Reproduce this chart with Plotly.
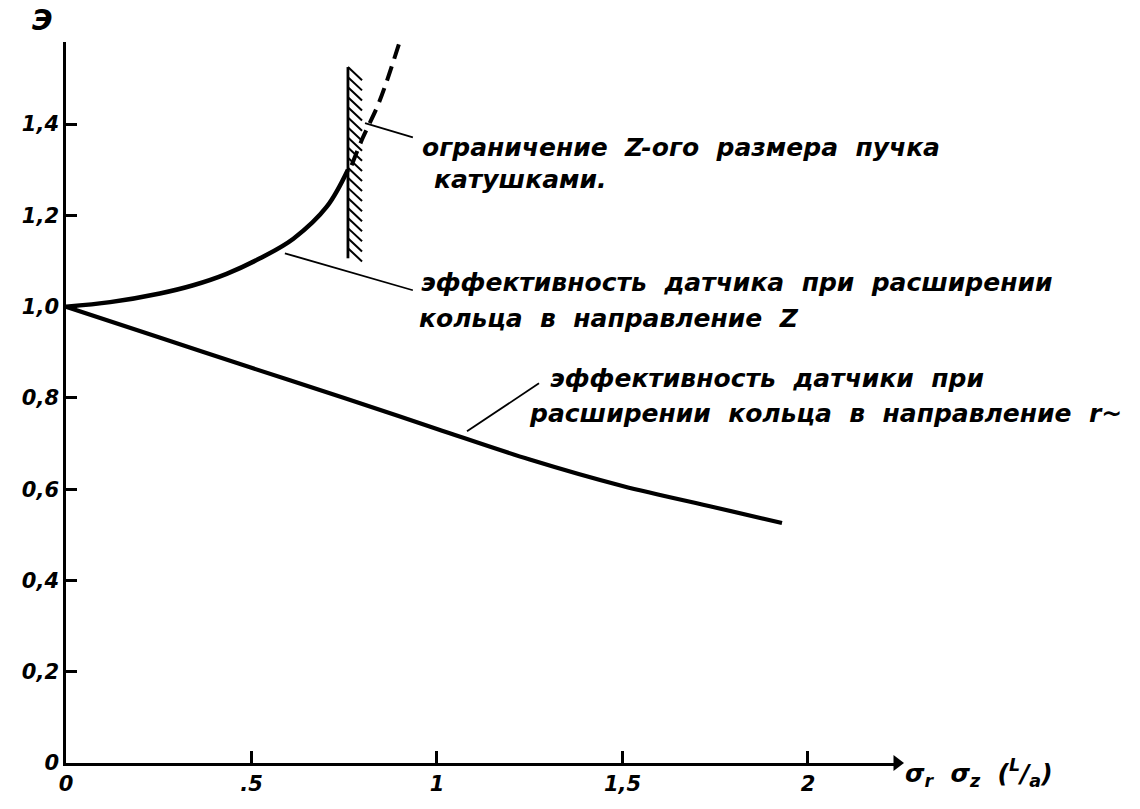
import numpy as np
import plotly.graph_objects as go

# ---- data ----
z_x = [0, 0.119, 0.253, 0.343, 0.433, 0.523, 0.613, 0.703, 0.76]
z_y = [1.0, 1.01, 1.029, 1.047, 1.072, 1.106, 1.149, 1.219, 1.30]

z_dash_x = [0.77, 0.80, 0.845, 0.898]
z_dash_y = [1.31, 1.37, 1.45, 1.577]

r_x = [0, 0.25, 0.5, 0.75, 1.0, 1.25, 1.5, 1.75, 1.93]
r_y = [1.0, 0.933, 0.866, 0.80, 0.732, 0.665, 0.607, 0.56, 0.526]

limit_x = 0.76
limit_y = [1.106, 1.525]

# callout leader lines: (curve point, label point)
leader_x = [[0.806, 0.935], [0.59, 0.935], [1.081, 1.275]]
leader_y = [[1.402, 1.371], [1.117, 1.036], [0.727, 0.832]]

y_tickvals = [0, 0.2, 0.4, 0.6, 0.8, 1.0, 1.2, 1.4]
y_ticktext = ["0", "0,2", "0,4", "0,6", "0,8", "1,0", "1,2", "1,4"]
x_tickvals = [0, 0.5, 1, 1.5, 2]
x_ticktext = ["0", ".5", "1", "1,5", "2"]
x_max = 2.24
y_max = 1.58

FONT = "DejaVu Sans"
fig = go.Figure()

# hatch of the limit line
hx, hy = [], []
n_ticks = 19
step = (limit_y[1] - limit_y[0]) / n_ticks
for i in range(n_ticks):
    y0 = limit_y[1] - i * step
    hx += [limit_x, limit_x + 0.038, None]
    hy += [y0, y0 - 0.029, None]
fig.add_trace(go.Scatter(x=hx, y=hy, mode="lines", line=dict(color="black", width=2),
                         hoverinfo="skip", showlegend=False))
fig.add_trace(go.Scatter(x=[limit_x, limit_x], y=limit_y, mode="lines",
                         line=dict(color="black", width=2.8), showlegend=False))

fig.add_trace(go.Scatter(x=z_x, y=z_y, mode="lines", line=dict(color="black", width=4.5, shape="spline"),
                         showlegend=False))
fig.add_trace(go.Scatter(x=z_dash_x, y=z_dash_y, mode="lines",
                         line=dict(color="black", width=4, dash="15px,8px", shape="spline"),
                         showlegend=False))
fig.add_trace(go.Scatter(x=r_x, y=r_y, mode="lines", line=dict(color="black", width=4.2, shape="spline"),
                         showlegend=False))

# leader lines
lx, ly = [], []
for xs, ys in zip(leader_x, leader_y):
    lx += xs + [None]
    ly += ys + [None]
fig.add_trace(go.Scatter(x=lx, y=ly, mode="lines", line=dict(color="black", width=1.8),
                         hoverinfo="skip", showlegend=False))

# x-axis arrow head
fig.add_trace(go.Scatter(x=[x_max], y=[0], mode="markers", cliponaxis=False,
                         marker=dict(symbol="triangle-right", size=14, color="black"),
                         hoverinfo="skip", showlegend=False))

texts = [
    (0.954, 1.349, "ограничение  Z-ого  размера  пучка"),
    (0.987, 1.279, "катушками."),
    (0.952, 1.053, "эффективность  датчика  при  расширении"),
    (0.946, 0.975, "кольца  в  направление  Z"),
    (1.30, 0.843, "эффективность  датчики  при"),
    (1.243, 0.767, "расширении  кольца  в  направление  r~"),
]
TXT = dict(family=FONT, size=25, color="black", style="italic", weight="bold")
for x, y, t in texts:
    fig.add_annotation(x=x, y=y, xref="x", yref="y", text=t, showarrow=False,
                       xanchor="left", yanchor="middle", font=TXT)

fig.add_annotation(x=-0.028, y=1.03, xref="paper", yref="paper", text="Э", showarrow=False,
                   xanchor="center", yanchor="middle",
                   font=dict(family=FONT, size=28, color="black", style="italic", weight="bold"))
fig.add_annotation(x=1.007, y=-0.014, xref="paper", yref="paper",
                   text="σ<sub>r</sub>  σ<sub>z</sub>  (<sup>L</sup>/<sub>a</sub>)",
                   showarrow=False, xanchor="left", yanchor="middle", font=TXT)

TICKF = dict(family=FONT, size=21, color="black", style="italic", weight="bold")
fig.update_layout(
    width=1140, height=809,
    margin=dict(l=66, r=243, t=42, b=46),
    paper_bgcolor="white", plot_bgcolor="white",
    xaxis=dict(range=[0, x_max], showgrid=False, zeroline=False, showline=True, linecolor="black",
               linewidth=2.5, ticks="inside", ticklen=12, tickwidth=2.5, tickcolor="black",
               tickvals=x_tickvals, ticktext=x_ticktext, tickfont=TICKF, automargin=False),
    yaxis=dict(range=[0, y_max], showgrid=False, zeroline=False, showline=True, linecolor="black",
               linewidth=2.5, ticks="inside", ticklen=11, tickwidth=2.5, tickcolor="black",
               tickvals=y_tickvals, ticktext=y_ticktext, tickfont=TICKF, ticksuffix="   ",
               automargin=False),
)

fig.write_html("out.html", config={"displayModeBar": False},
               post_script="document.body.style.margin='0';")
